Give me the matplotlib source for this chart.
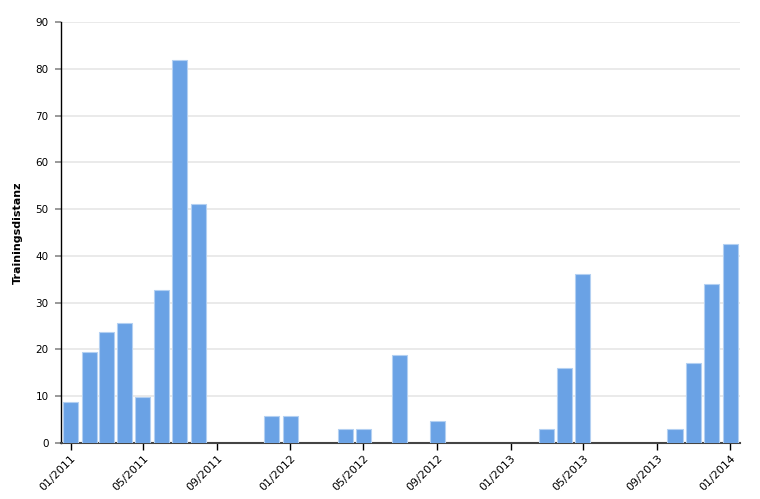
import datetime as dt
import matplotlib
matplotlib.use("Agg")
import matplotlib.pyplot as plt

# monthly training distance
months = [
    "2011-01", "2011-02", "2011-03", "2011-04", "2011-05", "2011-06", "2011-07", "2011-08",
    "2011-12", "2012-01", "2012-04", "2012-05", "2012-07", "2012-09",
    "2013-03", "2013-04", "2013-05", "2013-10", "2013-11", "2013-12", "2014-01",
]
distance = [
    8.8, 19.5, 23.7, 25.7, 9.8, 32.8, 81.8, 51.2,
    5.7, 5.7, 2.9, 2.9, 18.9, 4.8,
    3.1, 16.1, 36.2, 2.9, 17.1, 33.9, 42.6,
]
tick_labels = ["01/2011", "05/2011", "09/2011", "01/2012", "05/2012", "09/2012",
               "01/2013", "05/2013", "09/2013", "01/2014"]
y_ticks = list(range(0, 91, 10))

dates = [dt.datetime.strptime(m, "%Y-%m") for m in months]
tick_dates = [dt.datetime.strptime(t, "%m/%Y") for t in tick_labels]

fig = plt.figure(figsize=(7.6, 4.99), dpi=100)
ax = fig.add_axes([0.0803, 0.1122, 0.8934, 0.8437])

ax.bar(dates, distance, width=25, color="#6aa2e5", edgecolor="#b3d0f2", linewidth=0.8, zorder=3)

ax.set_xlim(tick_dates[0] - dt.timedelta(days=16), tick_dates[-1] + dt.timedelta(days=16))
ax.set_ylim(0, 90)
ax.set_yticks(y_ticks)
ax.set_xticks(tick_dates)
ax.set_xticklabels(tick_labels, rotation=45, ha="right", rotation_mode="anchor")

ax.grid(axis="y", color="#e6e6e6", linewidth=1.2, zorder=0)
for s in ["top", "right"]:
    ax.spines[s].set_visible(False)
ax.spines["left"].set_color("black")
ax.spines["left"].set_linewidth(1)
ax.spines["bottom"].set_color("#444444")
ax.spines["bottom"].set_linewidth(1.5)

ax.tick_params(axis="y", length=4, color="#888888", width=1.2, labelsize=7.5, pad=5)
ax.tick_params(axis="x", length=5, color="black", width=1, labelsize=8, pad=2)

ax.set_ylabel("Trainingsdistanz", fontsize=8, fontweight="bold", labelpad=9)

fig.savefig("out.png", dpi=100)
